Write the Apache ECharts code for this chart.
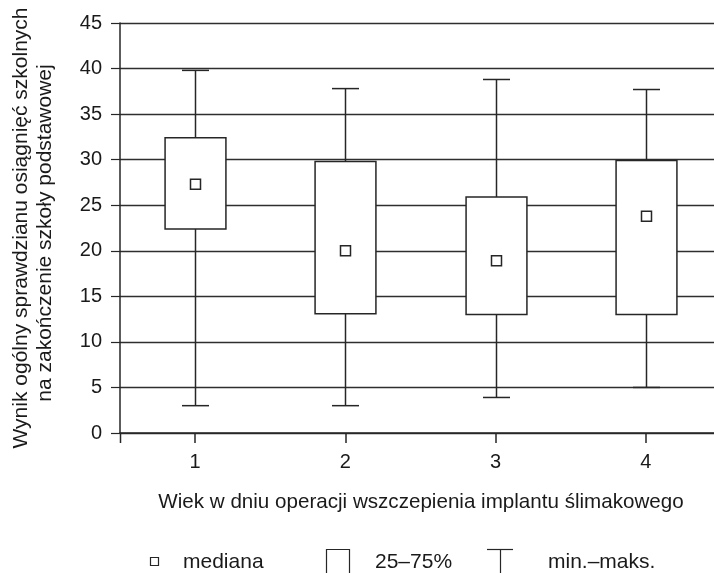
<!DOCTYPE html>
<html>
<head>
<meta charset="utf-8">
<script src="https://cdn.jsdelivr.net/npm/echarts@6/dist/echarts.min.js"></script>
<style>
html,body{margin:0;padding:0;background:#fff;overflow:hidden;width:714px;height:573px;}
#main{width:722px;height:573px;}
</style>
</head>
<body>
<div id="main"></div>
<script>
const categories = ['1', '2', '3', '4'];
const minVals = [3.0, 3.0, 3.9, 5.0];
const q1Vals = [22.4, 13.1, 13.0, 13.0];
const medianVals = [27.3, 20.0, 18.9, 23.8];
const q3Vals = [32.4, 29.8, 25.9, 29.9];
const maxVals = [39.8, 37.8, 38.8, 37.7];
const yTicks = [0, 5, 10, 15, 20, 25, 30, 35, 40, 45];

const yTitle1 = 'Wynik ogólny sprawdzianu osiągnięć szkolnych';
const yTitle2 = 'na zakończenie szkoły podstawowej';
const xTitle = 'Wiek w dniu operacji wszczepienia implantu ślimakowego';
const legendLabels = ['mediana', '25–75%', 'min.–maks.'];

const FONT = '"Liberation Sans", Arial, Helvetica, sans-serif';
const TXT = '#1a1a1a';
const LINE = '#262626';

const boxData = categories.map((c, i) => [i, minVals[i], q1Vals[i], medianVals[i], q3Vals[i], maxVals[i]]);

function renderBox(params, api) {
  const idx = api.value(0);
  const band = api.size([1, 0])[0];
  const pMin = api.coord([idx, api.value(1)]);
  const pQ1 = api.coord([idx, api.value(2)]);
  const pMed = api.coord([idx, api.value(3)]);
  const pQ3 = api.coord([idx, api.value(4)]);
  const pMax = api.coord([idx, api.value(5)]);
  const x = Math.round(pMed[0]) + 0.5;
  const bw = band * 0.405;
  const cw = band * 0.18;
  const ms = 10;
  const st = {stroke: LINE, lineWidth: 1.5, fill: null};
  return {
    type: 'group',
    children: [
      {type: 'line', shape: {x1: x, y1: pMax[1], x2: x, y2: pQ3[1]}, style: st},
      {type: 'line', shape: {x1: x, y1: pQ1[1], x2: x, y2: pMin[1]}, style: st},
      {type: 'line', shape: {x1: x - cw / 2, y1: pMax[1], x2: x + cw / 2, y2: pMax[1]}, style: st},
      {type: 'line', shape: {x1: x - cw / 2, y1: pMin[1], x2: x + cw / 2, y2: pMin[1]}, style: st},
      {type: 'rect', shape: {x: x - bw / 2, y: pQ3[1], width: bw, height: pQ1[1] - pQ3[1]},
        style: {stroke: LINE, lineWidth: 1.5, fill: '#fff'}},
      {type: 'rect', shape: {x: x - ms / 2, y: pMed[1] - ms / 2, width: ms, height: ms},
        style: {stroke: LINE, lineWidth: 1.5, fill: '#fff'}}
    ]
  };
}

const chart = echarts.init(document.getElementById('main'), null, {renderer: 'canvas'});
chart.setOption({
  animation: false,
  backgroundColor: '#fff',
  textStyle: {fontFamily: FONT},
  grid: {left: 120, top: 23, width: 601, height: 410, containLabel: false},
  xAxis: {
    type: 'category',
    data: categories,
    boundaryGap: true,
    axisLine: {show: true, lineStyle: {color: LINE, width: 1.5}},
    axisTick: {show: true, alignWithLabel: true, length: 10, lineStyle: {color: LINE, width: 1.5}},
    axisLabel: {color: TXT, fontSize: 20, fontFamily: FONT, margin: 19},
    splitLine: {show: false}
  },
  yAxis: {
    type: 'value',
    min: 0, max: 45, interval: 5,
    axisLine: {show: true, lineStyle: {color: LINE, width: 1.5}},
    axisTick: {show: true, length: 9, lineStyle: {color: LINE, width: 1.2}},
    axisLabel: {color: TXT, fontSize: 20, fontFamily: FONT, margin: 18,
      formatter: v => yTicks.includes(v) ? String(v) : ''},
    splitLine: {show: true, lineStyle: {color: '#2e2e2e', width: 1.3}}
  },
  series: [{
    type: 'custom',
    renderItem: renderBox,
    encode: {x: 0, y: [1, 2, 3, 4, 5]},
    data: boxData,
    z: 5
  }],
  graphic: [
    {type: 'line', shape: {x1: 120.5, y1: 433, x2: 120.5, y2: 443}, style: {stroke: LINE, lineWidth: 1.5}},
    {type: 'text', x: 21, y: 228, rotation: Math.PI / 2,
      style: {text: yTitle1, fontSize: 21, fontFamily: FONT, fill: TXT, textAlign: 'center', textVerticalAlign: 'middle'}},
    {type: 'text', x: 45, y: 233, rotation: Math.PI / 2,
      style: {text: yTitle2, fontSize: 21, fontFamily: FONT, fill: TXT, textAlign: 'center', textVerticalAlign: 'middle'}},
    {type: 'text', x: 421, y: 502,
      style: {text: xTitle, fontSize: 20.6, fontFamily: FONT, fill: TXT, textAlign: 'center', textVerticalAlign: 'middle'}},
    // legend
    {type: 'rect', shape: {x: 150.5, y: 557.5, width: 8, height: 8}, style: {stroke: LINE, lineWidth: 1.2, fill: '#fff'}},
    {type: 'text', x: 183, y: 562, style: {text: legendLabels[0], fontSize: 21, fontFamily: FONT, fill: TXT, textVerticalAlign: 'middle'}},
    {type: 'polyline', shape: {points: [[326.5, 580], [326.5, 549.5], [349.5, 549.5], [349.5, 580]]}, style: {stroke: LINE, lineWidth: 1.2, fill: null}},
    {type: 'text', x: 375, y: 562, style: {text: legendLabels[1], fontSize: 21, fontFamily: FONT, fill: TXT, textVerticalAlign: 'middle'}},
    {type: 'line', shape: {x1: 487, y1: 549.5, x2: 513, y2: 549.5}, style: {stroke: LINE, lineWidth: 1.2}},
    {type: 'line', shape: {x1: 500.5, y1: 549.5, x2: 500.5, y2: 580}, style: {stroke: LINE, lineWidth: 1.2}},
    {type: 'text', x: 548, y: 562, style: {text: legendLabels[2], fontSize: 21, fontFamily: FONT, fill: TXT, textVerticalAlign: 'middle'}}
  ]
});
</script>
</body>
</html>
